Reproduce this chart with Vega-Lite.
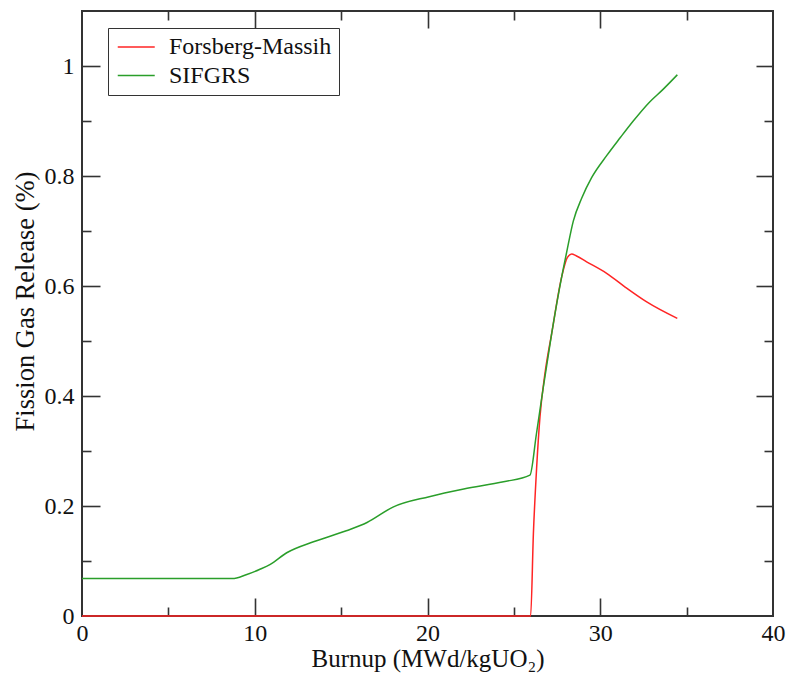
{
  "$schema": "https://vega.github.io/schema/vega-lite/v6.json",
  "width": 691,
  "height": 605,
  "autosize": {"type": "none"},
  "padding": {"left": 82, "top": 11, "right": 13, "bottom": 58},
  "background": "white",
  "config": {
    "view": {"stroke": "#333333", "strokeWidth": 2},
    "font": "Liberation Serif",
    "axis": {
      "grid": false,
      "domain": false,
      "labelFont": "Liberation Serif",
      "titleFont": "Liberation Serif",
      "labelColor": "#111111",
      "titleColor": "#111111",
      "titleFontWeight": "normal",
      "tickColor": "#333333",
      "tickWidth": 1.6,
      "labelFlush": false
    }
  },
  "data": {
    "values": [
      {"series": "Forsberg-Massih", "x": 0, "y": 0},
      {"series": "Forsberg-Massih", "x": 25.97, "y": 0},
      {"series": "Forsberg-Massih", "x": 26.13, "y": 0.15},
      {"series": "Forsberg-Massih", "x": 26.32, "y": 0.271},
      {"series": "Forsberg-Massih", "x": 26.51, "y": 0.362},
      {"series": "Forsberg-Massih", "x": 26.8, "y": 0.441},
      {"series": "Forsberg-Massih", "x": 27.19, "y": 0.514},
      {"series": "Forsberg-Massih", "x": 27.77, "y": 0.617},
      {"series": "Forsberg-Massih", "x": 28.1, "y": 0.652},
      {"series": "Forsberg-Massih", "x": 28.35, "y": 0.658},
      {"series": "Forsberg-Massih", "x": 28.6, "y": 0.655},
      {"series": "Forsberg-Massih", "x": 29.21, "y": 0.644},
      {"series": "Forsberg-Massih", "x": 30.37, "y": 0.623},
      {"series": "Forsberg-Massih", "x": 31.53, "y": 0.596},
      {"series": "Forsberg-Massih", "x": 32.69, "y": 0.571},
      {"series": "Forsberg-Massih", "x": 34.46, "y": 0.541},
      {"series": "SIFGRS", "x": 0, "y": 0.068},
      {"series": "SIFGRS", "x": 8.7, "y": 0.068},
      {"series": "SIFGRS", "x": 9.5, "y": 0.075},
      {"series": "SIFGRS", "x": 10.3, "y": 0.085},
      {"series": "SIFGRS", "x": 10.9, "y": 0.094},
      {"series": "SIFGRS", "x": 11.85, "y": 0.115},
      {"series": "SIFGRS", "x": 13.4, "y": 0.135},
      {"series": "SIFGRS", "x": 15.3, "y": 0.155},
      {"series": "SIFGRS", "x": 16.5, "y": 0.17},
      {"series": "SIFGRS", "x": 18.0, "y": 0.198},
      {"series": "SIFGRS", "x": 20.1, "y": 0.217},
      {"series": "SIFGRS", "x": 22.1, "y": 0.231},
      {"series": "SIFGRS", "x": 24.4, "y": 0.244},
      {"series": "SIFGRS", "x": 25.93, "y": 0.256},
      {"series": "SIFGRS", "x": 26.3, "y": 0.33},
      {"series": "SIFGRS", "x": 26.7, "y": 0.415},
      {"series": "SIFGRS", "x": 27.19, "y": 0.514},
      {"series": "SIFGRS", "x": 27.77, "y": 0.617},
      {"series": "SIFGRS", "x": 28.06, "y": 0.662},
      {"series": "SIFGRS", "x": 28.44, "y": 0.718},
      {"series": "SIFGRS", "x": 28.93, "y": 0.76},
      {"series": "SIFGRS", "x": 29.5, "y": 0.797},
      {"series": "SIFGRS", "x": 30.37, "y": 0.837},
      {"series": "SIFGRS", "x": 31.14, "y": 0.869},
      {"series": "SIFGRS", "x": 31.91, "y": 0.9},
      {"series": "SIFGRS", "x": 32.78, "y": 0.932},
      {"series": "SIFGRS", "x": 33.65, "y": 0.958},
      {"series": "SIFGRS", "x": 34.46, "y": 0.984}
    ]
  },
  "resolve": {"axis": {"x": "independent", "y": "independent"}},
  "layer": [
    {
      "mark": {"type": "line", "strokeWidth": 1.5, "interpolate": "monotone"},
      "encoding": {
        "x": {
          "field": "x", "type": "quantitative",
          "scale": {"domain": [0, 40], "nice": false, "zero": false},
          "axis": {
            "orient": "bottom", "values": [0, 10, 20, 30, 40], "ticks": false,
            "labelFontSize": 24, "labelPadding": 5,
            "title": "Burnup (MWd/kgUO₂)", "titleFontSize": 25, "titlePadding": 1
          }
        },
        "y": {
          "field": "y", "type": "quantitative",
          "scale": {"domain": [0, 1.1], "nice": false, "zero": false},
          "axis": {
            "orient": "left", "values": [0, 0.2, 0.4, 0.6, 0.8, 1], "ticks": false, "format": "~g",
            "labelFontSize": 24, "labelPadding": 8,
            "title": "Fission Gas Release (%)", "titleFontSize": 26.5, "titlePadding": 5, "titleY": 290
          }
        },
        "color": {
          "field": "series", "type": "nominal",
          "scale": {"domain": ["Forsberg-Massih", "SIFGRS"], "range": ["#ff2424", "#2a9e2a"]},
          "legend": {
            "title": null, "orient": "none", "legendX": 26, "legendY": 17,
            "fillColor": "white", "strokeColor": "#333333",
            "padding": 7, "symbolType": "M-1,0H3", "symbolSize": 342, "symbolStrokeWidth": 1.5,
            "labelFont": "Liberation Serif", "labelFontSize": 24, "labelColor": "#111111", "labelLimit": 0,
            "labelOffset": 30, "rowPadding": 4.5
          }
        }
      }
    },
    {
      "mark": {"type": "point", "opacity": 0},
      "encoding": {
        "x": {"field": "x", "type": "quantitative", "scale": {"domain": [0, 40], "nice": false, "zero": false},
          "axis": {"orient": "bottom", "values": [10, 20, 30], "labels": false, "title": null, "tickSize": -18}},
        "y": {"field": "y", "type": "quantitative", "scale": {"domain": [0, 1.1], "nice": false, "zero": false},
          "axis": {"orient": "left", "values": [0.2, 0.4, 0.6, 0.8, 1], "labels": false, "title": null, "tickSize": -18}}
      }
    },
    {
      "mark": {"type": "point", "opacity": 0},
      "encoding": {
        "x": {"field": "x", "type": "quantitative", "scale": {"domain": [0, 40], "nice": false, "zero": false},
          "axis": {"orient": "bottom", "values": [5, 15, 25, 35], "labels": false, "title": null, "tickSize": -9}},
        "y": {"field": "y", "type": "quantitative", "scale": {"domain": [0, 1.1], "nice": false, "zero": false},
          "axis": {"orient": "left", "values": [0.1, 0.3, 0.5, 0.7, 0.9], "labels": false, "title": null, "tickSize": -9}}
      }
    },
    {
      "mark": {"type": "point", "opacity": 0},
      "encoding": {
        "x": {"field": "x", "type": "quantitative", "scale": {"domain": [0, 40], "nice": false, "zero": false},
          "axis": {"orient": "top", "values": [10, 20, 30], "labels": false, "title": null, "tickSize": -17}},
        "y": {"field": "y", "type": "quantitative", "scale": {"domain": [0, 1.1], "nice": false, "zero": false},
          "axis": {"orient": "right", "values": [0.2, 0.4, 0.6, 0.8, 1], "labels": false, "title": null, "tickSize": -17}}
      }
    },
    {
      "mark": {"type": "point", "opacity": 0},
      "encoding": {
        "x": {"field": "x", "type": "quantitative", "scale": {"domain": [0, 40], "nice": false, "zero": false},
          "axis": {"orient": "top", "values": [5, 15, 25, 35], "labels": false, "title": null, "tickSize": -9}},
        "y": {"field": "y", "type": "quantitative", "scale": {"domain": [0, 1.1], "nice": false, "zero": false},
          "axis": {"orient": "right", "values": [0.1, 0.3, 0.5, 0.7, 0.9], "labels": false, "title": null, "tickSize": -9}}
      }
    }
  ]
}
